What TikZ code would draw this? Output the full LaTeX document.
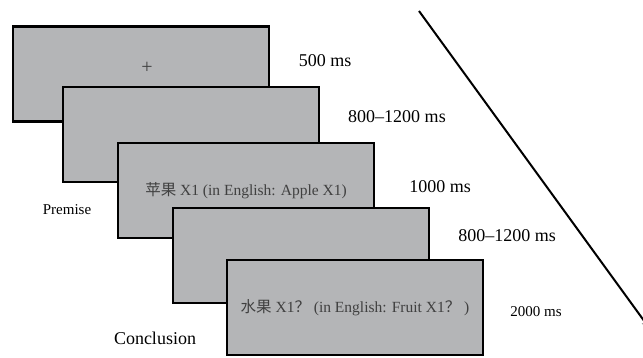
\documentclass[tikz,border=0pt]{standalone}
\usepackage{fontspec}
\setmainfont{Liberation Serif}
\newfontfamily\cjk{Noto Sans CJK SC}
\usetikzlibrary{arrows.meta}

\definecolor{screengray}{RGB}{180,181,183}
\tikzset{
  screen/.style={draw, line width=2.5pt, fill=screengray, inner sep=0pt,
    minimum width=256pt, minimum height=95pt,
    text=black!75, font=\fontsize{15.5}{18}\selectfont},
  timing/.style={font=\fontsize{18}{20}\selectfont},
  small/.style={font=\fontsize{15}{17}\selectfont},
}

\begin{document}
\begin{tikzpicture}[x=1pt,y=-1pt]
    \useasboundingbox (0,0) rectangle (643,358);
    % the five screens, each one on top of the one before
    \node [screen] (fix) at (141,74) {};
    \node [text=black!75, font=\fontsize{20}{20}\selectfont] (plus) at (147,68) {+};
    \node [screen] (blankA) at (191,134.5) {};
    \node [screen] (prem) at (246,190.5) {{\cjk 苹果} X1 (in English: Apple X1)};
    \node [screen] (blankB) at (301,255.5) {};
    \node [screen] (concl) at (355,307.5) {{\cjk 水果} X1{\cjk ？} (in English: Fruit X1{\cjk ？} )};
    % durations
    \node [timing] (tfix) at (325,61) {500 ms};
    \node [timing] (tblankA) at (397,117) {800--1200 ms};
    \node [timing] (tprem) at (440,187) {1000 ms};
    \node [timing] (tblankB) at (507,236) {800--1200 ms};
    \node [small] (tconcl) at (536,312) {2000 ms};
    \node [small] (premise) at (67,210) {Premise};
    \node [timing] (conclusion) at (155,338) {Conclusion};
    % time axis
    \coordinate (tstart) at (419,11);
    \coordinate (tend) at (650,329);
    \draw [line width=2pt, -{Stealth[length=9pt]}] (tstart) -- (tend);
\end{tikzpicture}
\end{document}
